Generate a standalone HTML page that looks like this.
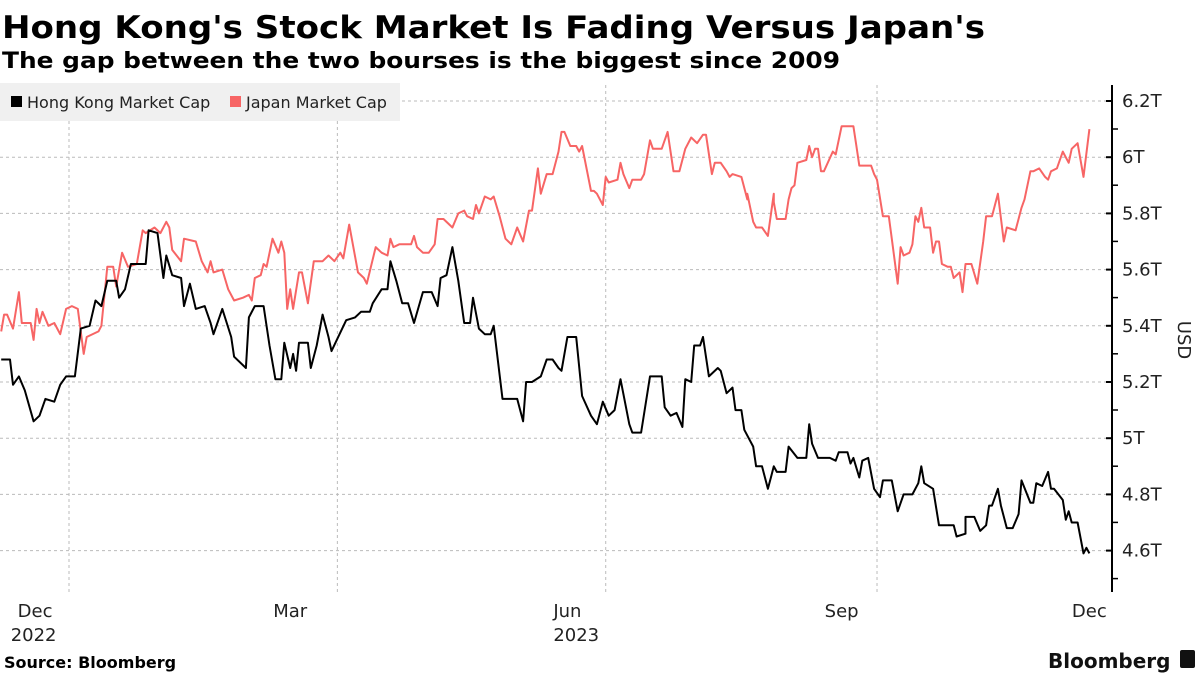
<!DOCTYPE html>
<html><head><meta charset="utf-8"><style>
html,body{margin:0;padding:0;background:#fff;}
svg{display:block;font-family:"DejaVu Sans","Liberation Sans",sans-serif;}
</style></head><body>
<svg id="chart" width="1200" height="675" viewBox="0 0 1200 675">
<text x="2" y="38" font-size="31" font-weight="bold" textLength="983" lengthAdjust="spacingAndGlyphs">Hong Kong's Stock Market Is Fading Versus Japan's</text>
<text x="2" y="68" font-size="22" font-weight="bold" textLength="838" lengthAdjust="spacingAndGlyphs">The gap between the two bourses is the biggest since 2009</text>
<g id="grid"></g>
<g id="lines"></g>
<g id="axis"></g>
<g id="xaxis"></g>
<g>
<rect x="0" y="83" width="400" height="38" fill="#f0f0f0"/>
<rect x="11" y="96" width="11" height="11" fill="#000"/>
<text x="27" y="108" font-size="16" fill="#222">Hong Kong Market Cap</text>
<rect x="230" y="96" width="11" height="11" fill="#f76565"/>
<text x="246" y="108" font-size="16" fill="#222">Japan Market Cap</text>
</g>
<text transform="translate(1178,340) rotate(90)" font-size="18" text-anchor="middle" fill="#222">USD</text>
<text x="4" y="668" font-size="16" font-weight="bold">Source: Bloomberg</text>
<text x="1048" y="668" font-size="20" font-weight="bold" fill="#111">Bloomberg</text>
<rect x="1180" y="650" width="15" height="18" rx="2" fill="#111"/>
</svg>
<script>
const yTicks=[6.2,6.0,5.8,5.6,5.4,5.2,5.0,4.8,4.6];
const yTickLabels=["6.2T","6T","5.8T","5.6T","5.4T","5.2T","5T","4.8T","4.6T"];
const quarterStarts=[0,91,182,274];
const monthLabelDays=[-11.5,75,169,262,346];
const monthLabels=["Dec","Mar","Jun","Sep","Dec"];
const yearLabels=[["2022",-12],["2023",172]];
// days since 2023-01-01
const hkDays=[-23,-20,-19,-17,-15,-12,-10,-8,-5,-3,-1,2,4,7,9,11,13,16,17,19,21,26,27,30,32,33,35,38,39,41,43,46,48,49,52,55,56,60,61,63,66,68,70,72,73,75,76,77,78,81,82,84,86,88,89,94,97,99,102,103,106,108,109,111,113,115,117,120,123,125,126,128,130,132,134,136,137,139,141,143,144,147,151,152,154,155,157,160,162,164,166,167,169,172,174,177,179,181,183,185,187,190,191,194,197,199,201,202,204,206,208,209,211,212,214,215,217,220,221,223,225,226,228,229,232,233,235,237,238,239,240,243,244,247,250,251,252,254,257,258,260,261,264,265,266,268,269,271,273,275,276,279,281,283,286,288,289,290,293,295,300,301,304,304,307,309,311,312,313,315,316,318,320,322,323,326,327,328,330,332,333,334,337,338,339,340,342,344,345,346];
const hkValues=[5.28,5.28,5.19,5.22,5.17,5.06,5.08,5.14,5.13,5.19,5.22,5.22,5.39,5.40,5.49,5.47,5.56,5.56,5.50,5.53,5.62,5.62,5.74,5.73,5.57,5.65,5.58,5.57,5.47,5.55,5.46,5.47,5.41,5.37,5.46,5.36,5.29,5.25,5.43,5.47,5.47,5.33,5.21,5.21,5.34,5.25,5.30,5.24,5.34,5.34,5.25,5.33,5.44,5.36,5.31,5.42,5.43,5.45,5.45,5.48,5.53,5.53,5.63,5.56,5.48,5.48,5.41,5.52,5.52,5.47,5.57,5.58,5.68,5.56,5.41,5.41,5.50,5.39,5.37,5.37,5.40,5.14,5.14,5.14,5.06,5.20,5.20,5.22,5.28,5.28,5.25,5.24,5.36,5.36,5.15,5.08,5.05,5.13,5.08,5.10,5.21,5.05,5.02,5.02,5.22,5.22,5.22,5.11,5.08,5.09,5.04,5.21,5.20,5.33,5.33,5.36,5.22,5.25,5.24,5.16,5.18,5.10,5.10,5.03,4.97,4.90,4.90,4.82,4.86,4.90,4.88,4.88,4.97,4.93,4.93,5.05,4.98,4.93,4.93,4.93,4.92,4.95,4.95,4.91,4.93,4.86,4.92,4.93,4.82,4.79,4.85,4.85,4.74,4.80,4.80,4.84,4.90,4.84,4.82,4.69,4.69,4.65,4.66,4.72,4.72,4.67,4.69,4.76,4.76,4.82,4.76,4.68,4.68,4.73,4.85,4.77,4.77,4.84,4.83,4.88,4.82,4.82,4.78,4.71,4.74,4.70,4.70,4.59,4.61,4.59];
const jpDays=[-23,-22,-21,-19,-17,-16,-13,-12,-11,-10,-9,-7,-5,-3,-1,1,3,5,6,10,11,13,15,16,18,20,23,25,26,29,31,33,34,35,38,39,43,45,47,48,49,52,54,56,59,61,62,63,65,66,67,69,71,72,73,74,75,76,78,79,81,83,86,88,90,92,93,95,98,100,101,104,106,108,109,110,112,116,117,118,120,122,124,125,127,129,130,132,134,135,137,138,139,141,143,144,146,148,150,152,154,156,157,159,160,162,164,166,167,168,170,172,173,174,177,178,179,181,182,183,186,187,188,190,191,194,195,197,198,201,203,205,207,209,211,213,215,216,218,219,221,223,224,225,228,230,230,232,233,235,237,239,239,240,243,244,245,246,247,250,251,252,253,254,255,256,259,260,262,264,266,267,268,272,273,274,276,278,279,281,282,283,285,286,287,288,289,290,292,293,294,295,296,298,299,300,302,303,304,306,308,310,311,313,315,317,318,321,323,324,326,327,329,331,332,333,335,337,339,340,342,344,346];
const jpValues=[5.38,5.44,5.44,5.39,5.52,5.41,5.41,5.35,5.46,5.41,5.45,5.40,5.41,5.37,5.46,5.47,5.46,5.30,5.36,5.38,5.40,5.61,5.61,5.54,5.66,5.61,5.62,5.74,5.73,5.75,5.73,5.77,5.75,5.67,5.63,5.71,5.70,5.63,5.59,5.63,5.59,5.60,5.53,5.49,5.50,5.51,5.49,5.57,5.58,5.62,5.61,5.71,5.66,5.70,5.66,5.46,5.53,5.46,5.59,5.59,5.48,5.63,5.63,5.65,5.63,5.66,5.64,5.76,5.59,5.57,5.55,5.68,5.66,5.65,5.71,5.68,5.69,5.69,5.72,5.68,5.66,5.66,5.69,5.78,5.78,5.76,5.75,5.80,5.81,5.79,5.78,5.83,5.80,5.86,5.85,5.86,5.79,5.71,5.69,5.75,5.70,5.81,5.81,5.96,5.87,5.94,5.94,6.02,6.09,6.09,6.04,6.04,6.02,6.04,5.88,5.88,5.87,5.83,5.93,5.91,5.92,5.98,5.94,5.89,5.92,5.92,5.94,6.06,6.03,6.03,6.09,5.95,5.95,6.03,6.07,6.05,6.08,6.08,5.94,5.98,5.98,5.95,5.93,5.94,5.93,5.85,5.87,5.77,5.75,5.75,5.72,5.87,5.84,5.78,5.78,5.85,5.89,5.90,5.98,5.99,6.04,6.00,6.03,6.03,5.95,5.95,6.02,6.01,6.11,6.11,6.11,6.04,5.97,5.97,5.94,5.92,5.79,5.79,5.71,5.55,5.68,5.65,5.66,5.69,5.79,5.77,5.82,5.75,5.75,5.66,5.70,5.70,5.62,5.61,5.61,5.57,5.59,5.52,5.62,5.62,5.55,5.70,5.79,5.79,5.87,5.70,5.75,5.74,5.82,5.85,5.95,5.95,5.96,5.93,5.92,5.95,5.96,6.02,5.98,6.03,6.05,5.93,6.10];

const NS="http://www.w3.org/2000/svg";
const X0=69, PXD=2.949, AXIS_X=1112, PLOT_BOTTOM=592;
function xs(d){return X0+d*PXD;}
function ys(v){return 101+(6.2-v)*281;}
function mk(tag,attrs,parent){const e=document.createElementNS(NS,tag);for(const k in attrs)e.setAttribute(k,attrs[k]);parent.appendChild(e);return e;}
const grid=document.getElementById('grid'),axis=document.getElementById('axis'),xaxis=document.getElementById('xaxis'),lines=document.getElementById('lines');
yTicks.forEach((v,i)=>{
  const g=mk('line',{x1:0,x2:AXIS_X,y1:ys(v),y2:ys(v),stroke:'#bbb','stroke-width':1,'stroke-dasharray':'3,3'},grid);
  
  
  const t=mk('line',{x1:AXIS_X-6,x2:AXIS_X,y1:ys(v),y2:ys(v),stroke:'#000','stroke-width':2},axis);
  
  
  const m=mk('line',{x1:AXIS_X,x2:AXIS_X+6,y1:ys(v)+28,y2:ys(v)+28,stroke:'#000','stroke-width':1.5},axis);
  
  
  const l=mk('text',{x:AXIS_X+10,y:ys(v)+6,'font-size':18,fill:'#222'},axis);
  l.textContent=yTickLabels[i];
  
  
});
const al=mk('line',{x1:AXIS_X,x2:AXIS_X,y1:85,y2:PLOT_BOTTOM,stroke:'#000','stroke-width':2},axis);


quarterStarts.forEach(d=>{
  const g=mk('line',{x1:xs(d),x2:xs(d),y1:85,y2:PLOT_BOTTOM,stroke:'#bbb','stroke-width':1,'stroke-dasharray':'3,3'},grid);
  
  
});
monthLabelDays.forEach((d,i)=>{
  const t=mk('text',{x:xs(d),y:617,'font-size':18,'text-anchor':'middle',fill:'#222'},xaxis);
  t.textContent=monthLabels[i];
  
  
});
yearLabels.forEach(([y,d])=>{
  const t=mk('text',{x:xs(d),y:641,'font-size':18,'text-anchor':'middle',fill:'#222'},xaxis);
  t.textContent=y;
  
  
});
function path(days,vals){return days.map((d,i)=>(i?'L':'M')+xs(d).toFixed(1)+','+ys(vals[i]).toFixed(1)).join(' ');}
const jp=mk('path',{d:path(jpDays,jpValues),fill:'none',stroke:'#f76565','stroke-width':2,'stroke-linejoin':'round'},lines);


const hk=mk('path',{d:path(hkDays,hkValues),fill:'none',stroke:'#000','stroke-width':2,'stroke-linejoin':'round'},lines);


</script>
</body></html>
